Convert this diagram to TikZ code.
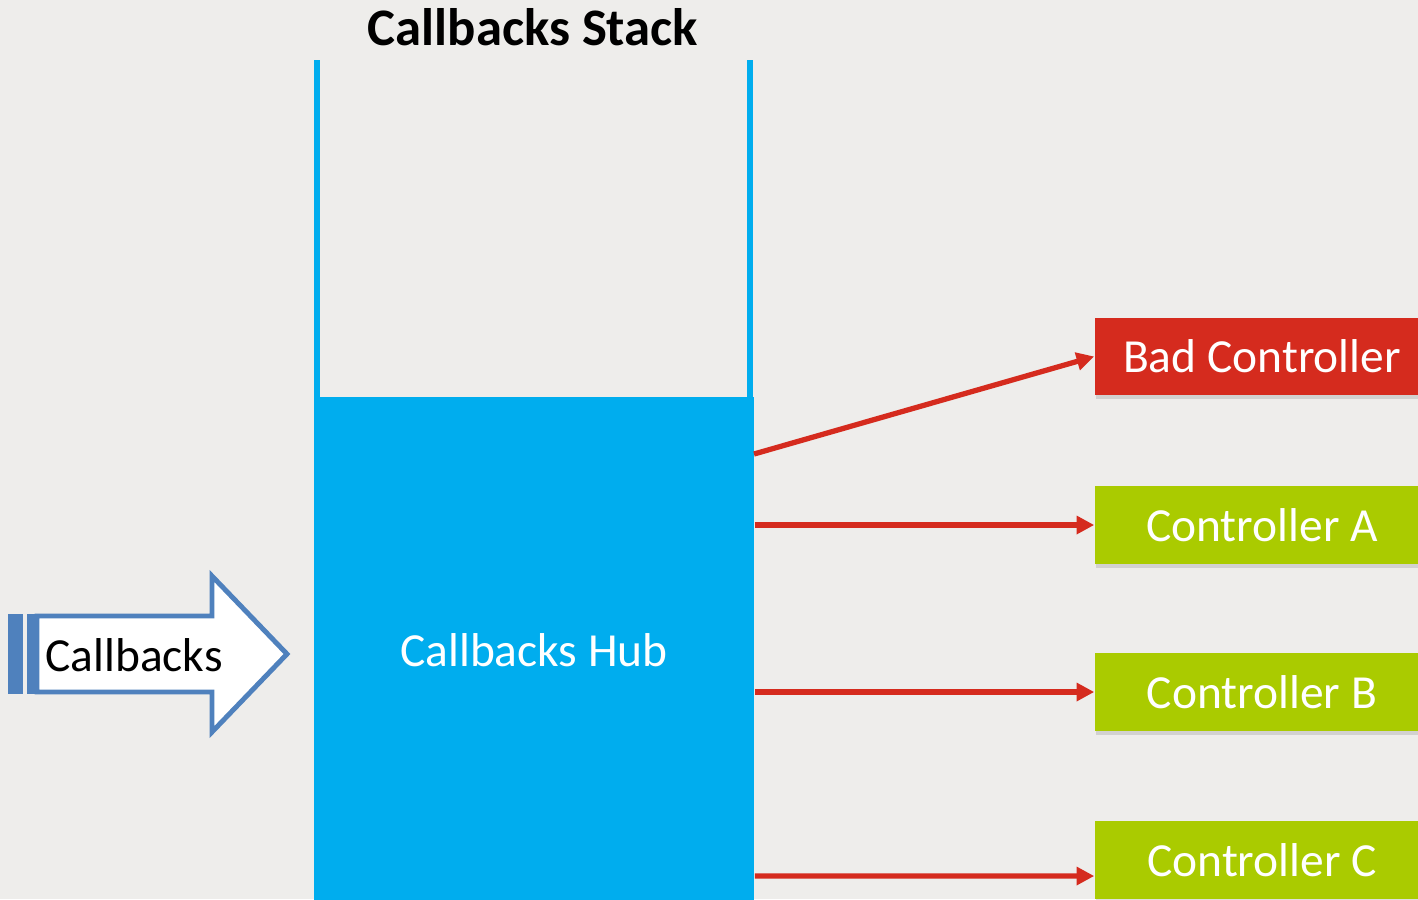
\documentclass[tikz,border=0pt]{standalone}
\usepackage{fontspec}
\setmainfont{Carlito}
\usepackage{xcolor}
\usepackage{tikz}
\usetikzlibrary{positioning}
\usetikzlibrary{arrows.meta}
\usetikzlibrary{shadows}
\definecolor{bggray}{HTML}{EEEDEB}
\definecolor{hubblue}{HTML}{00ADEE}
\definecolor{arrowblue}{HTML}{4F81BD}
\definecolor{badred}{HTML}{D52B1E}
\definecolor{ctrlgreen}{HTML}{AACB00}
\tikzset{
    hubnode/.style = {rectangle, fill=hubblue, text=white, align=center, inner sep=0pt, minimum width=4.4cm, minimum height=5.06cm},
    ctrlnode/.style = {rectangle, fill=ctrlgreen, text=white, align=center, inner sep=0pt, minimum width=3.34cm, minimum height=0.77cm, drop shadow={opacity=0.25,shadow xshift=0.4pt,shadow yshift=-1.2pt}},
    badnode/.style = {ctrlnode, fill=badred},
}

\begin{document}
\begin{tikzpicture}[
	x=0.01cm,
	y=-0.01cm,
	font=\fontsize{13.5}{16}\selectfont
]
\tikzset{
    walline/.style = {line width=1.5pt, hubblue},
    cbarrow/.style = {draw=arrowblue, fill=white, line width=1.4pt, line join=miter},
    edger/.style = {-{Triangle[length=5pt,width=5pt]}, line width=1.5pt, badred}
}
\useasboundingbox (0,0) rectangle (1418,899);
\fill[bggray] (0,0) rectangle (1418,899);
\clip (0,0) rectangle (1418,899);
%
\node[font=\fontsize{15}{18}\selectfont\bfseries] at (533,27) (title) {Callbacks Stack};
\draw[walline] (317,60) -- (317,402);
\draw[walline] (750,60) -- (750,402);
\node[hubnode] at (534,650) (hub) {Callbacks Hub};
%
\fill[arrowblue] (8,614) rectangle (23,694);
\fill[arrowblue] (27,614) rectangle (39,694);
\draw[cbarrow] (37,616) -- (212,616) -- (212,576) -- (287,654) -- (212,732) -- (212,692) -- (37,692) -- cycle;
\node at (134,655) (cb) {Callbacks};
%
\node[badnode] at (1262,356.5) (bad) {Bad Controller};
\node[ctrlnode] at (1262,525) (a) {Controller A};
\node[ctrlnode] at (1262,692) (b) {Controller B};
\node[ctrlnode] at (1262,860) (c) {Controller C};
\coordinate (badout) at (754,454);
%
\draw[edger] (badout) -- (bad.west);
\draw[edger] (hub.east |- a.west) -- (a.west);
\draw[edger] (hub.east |- b.west) -- (b.west);
\draw[edger] (hub.east |- 0,876) -- ([yshift=-0.16cm]c.west);
\end{tikzpicture}
\end{document}
